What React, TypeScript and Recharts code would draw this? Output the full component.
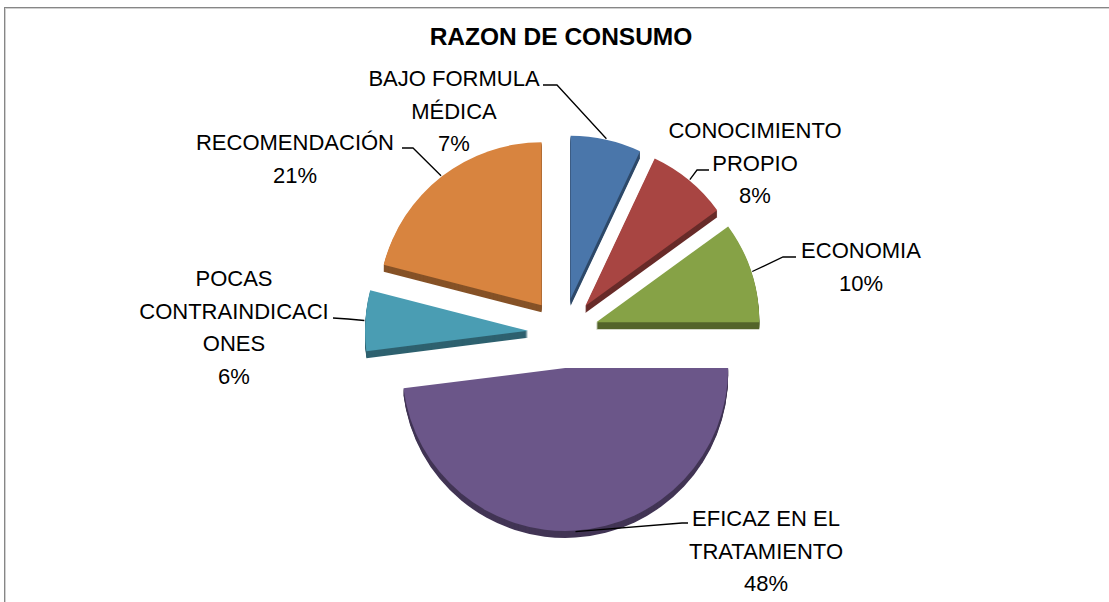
import React from 'react';
import { PieChart, Pie, Cell, Sector } from 'recharts';

const categories = [
  'BAJO FORMULA MÉDICA',
  'CONOCIMIENTO PROPIO',
  'ECONOMIA',
  'EFICAZ EN EL TRATAMIENTO',
  'POCAS CONTRAINDICACIONES',
  'RECOMENDACIÓN',
];
const values = [7, 8, 10, 48, 6, 21];

// line breaks used by the original data labels
const labelLines = [
  ['BAJO FORMULA', 'MÉDICA'],
  ['CONOCIMIENTO', 'PROPIO'],
  ['ECONOMIA'],
  ['EFICAZ EN EL', 'TRATAMIENTO'],
  ['POCAS', 'CONTRAINDICACI', 'ONES'],
  ['RECOMENDACIÓN'],
];

const colors = ['#4a76aa', '#a84542', '#86a246', '#6b5689', '#4a9db3', '#d8843f'];

// where each data label sits (text centre, first line) and its leader line bend
const labelLayout = [
  { x: 454, y: 78, elbow: [557, 85], end: [543, 85] },
  { x: 755, y: 130, elbow: [697, 170], end: [709, 170] },
  { x: 861, y: 250, elbow: [783, 257], end: [796, 257] },
  { x: 766, y: 518, elbow: [682, 523], end: [688, 523] },
  { x: 234, y: 278, elbow: [348, 319], end: [333, 318] },
  { x: 295, y: 142, elbow: [413, 148], end: [402, 148] },
];

const pieData = categories.map((name, i) => ({ name, value: values[i] }));

const RADIAN = Math.PI / 180;
const EXPLODE = 35;
const DEPTH = 7;
const LINE_H = 32.5;
const FONT = "'Liberation Sans', Arial, sans-serif";

const explode = (midAngle: number) => [
  EXPLODE * Math.cos(-midAngle * RADIAN),
  EXPLODE * Math.sin(-midAngle * RADIAN),
];

const shade = (hex: string, k: number) => {
  const n = parseInt(hex.slice(1), 16);
  const r = Math.round(((n >> 16) & 255) * k);
  const g = Math.round(((n >> 8) & 255) * k);
  const b = Math.round((n & 255) * k);
  return `rgb(${r},${g},${b})`;
};

const ExplodedSlice = (props: any) => {
  const { cx, cy, midAngle, innerRadius, outerRadius, startAngle, endAngle, fill } = props;
  const [ox, oy] = explode(midAngle);
  const side = shade(fill, 0.62);
  const layers = [];
  for (let d = DEPTH; d > 0; d--) {
    layers.push(
      <Sector
        key={d}
        cx={cx + ox}
        cy={cy + oy + d}
        innerRadius={innerRadius}
        outerRadius={outerRadius}
        startAngle={startAngle}
        endAngle={endAngle}
        fill={side}
        stroke="none"
      />
    );
  }
  return (
    <g>
      {layers}
      <Sector
        cx={cx + ox}
        cy={cy + oy}
        innerRadius={innerRadius}
        outerRadius={outerRadius}
        startAngle={startAngle}
        endAngle={endAngle}
        fill={fill}
        stroke="none"
      />
    </g>
  );
};

const renderLabel = (props: any) => {
  const { cx, cy, midAngle, outerRadius, index, percent } = props;
  const lay = labelLayout[index];
  const [ox, oy] = explode(midAngle);
  const sx = cx + ox + (outerRadius + 1) * Math.cos(-midAngle * RADIAN);
  const sy = cy + oy + (outerRadius + 1) * Math.sin(-midAngle * RADIAN);
  const lines = [...labelLines[index], `${Math.round(percent * 100)}%`];
  return (
    <g key={`lbl-${index}`}>
      <polyline
        points={`${sx},${sy} ${lay.elbow[0]},${lay.elbow[1]} ${lay.end[0]},${lay.end[1]}`}
        fill="none"
        stroke="#000"
        strokeWidth={1.3}
      />
      <text x={lay.x} y={lay.y + 8} textAnchor="middle" fontFamily={FONT} fontSize={22} fill="#000">
        {lines.map((t, i) => (
          <tspan key={i} x={lay.x} dy={i === 0 ? 0 : LINE_H}>
            {t}
          </tspan>
        ))}
      </text>
    </g>
  );
};

export default function App() {
  return (
    <div style={{ position: 'absolute', left: 0, top: 0, width: 1109, height: 602, background: '#fff', overflow: 'hidden' }}>
      <div
        style={{
          position: 'absolute',
          left: 4,
          top: 7,
          width: 1120,
          height: 620,
          borderLeft: '1px solid #868686',
          borderTop: '1px solid #868686',
          boxShadow: 'inset 1px 1px 0 #d0d0d0',
        }}
      />
      <div style={{ position: 'absolute', left: 0, top: 0 }}>
        <PieChart width={1109} height={602} margin={{ top: 0, right: 0, bottom: 0, left: 0 }}>
          <Pie
            data={pieData}
            dataKey="value"
            nameKey="name"
            cx={563}
            cy={333}
            outerRadius={163}
            startAngle={90}
            endAngle={-270}
            stroke="none"
            shape={ExplodedSlice}
            activeShape={ExplodedSlice}
            label={renderLabel}
            labelLine={false}
            isAnimationActive={false}
          >
            {pieData.map((d, i) => (
              <Cell key={d.name} fill={colors[i]} />
            ))}
          </Pie>
        </PieChart>
      </div>
      <svg width={1109} height={80} style={{ position: 'absolute', left: 0, top: 0, pointerEvents: 'none' }}>
        <text x={561} y={45} textAnchor="middle" fontFamily={FONT} fontWeight="bold" fontSize={24.5} fill="#000">
          RAZON DE CONSUMO
        </text>
      </svg>
    </div>
  );
}
